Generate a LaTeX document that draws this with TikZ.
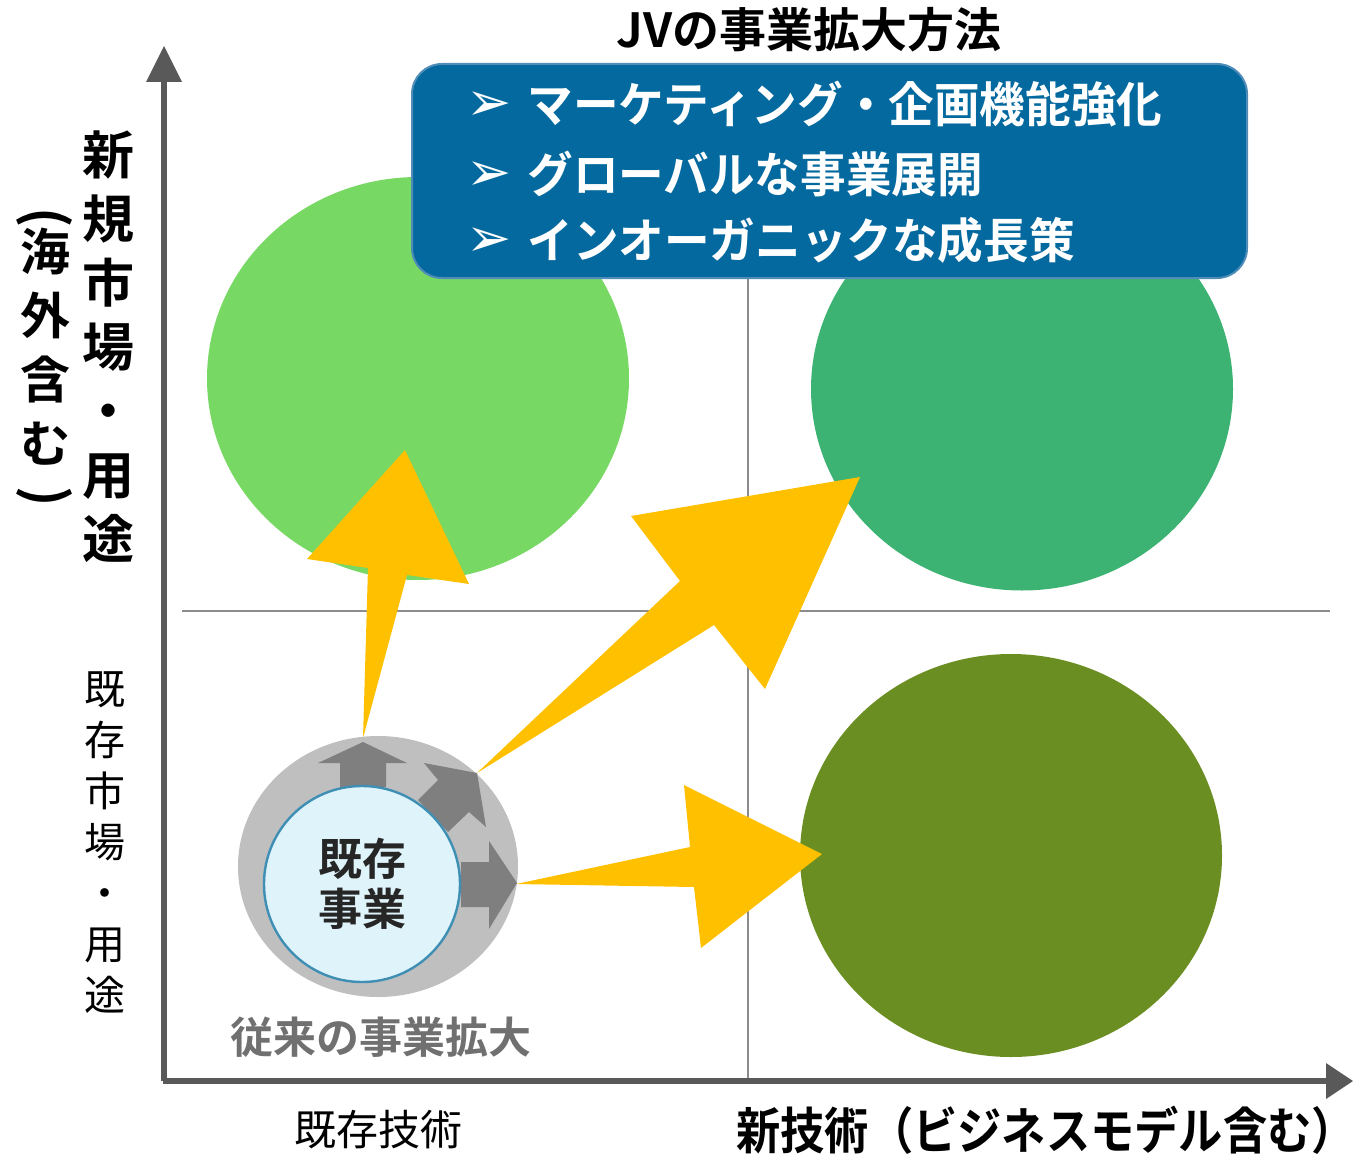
\documentclass[tikz,border=0pt]{standalone}
\usepackage{fontspec}
\usetikzlibrary{shapes.geometric}
\newfontfamily\jp{Noto Sans CJK JP}
\newfontfamily\jpb{Noto Sans CJK JP Bold}
\newfontfamily\jpbs[FakeStretch=0.95]{Noto Sans CJK JP Bold}
\newfontfamily\jpbn[FakeStretch=0.885]{Noto Sans CJK JP Bold}
\newfontfamily\dv{DejaVu Sans}
\definecolor{lgreen}{HTML}{78D864}
\definecolor{mgreen}{HTML}{3DB373}
\definecolor{olive}{HTML}{6B8E23}
\definecolor{yel}{HTML}{FFC000}
\definecolor{axisgrey}{HTML}{595959}
\definecolor{gridgrey}{HTML}{8C8C8C}
\definecolor{ringgrey}{HTML}{BFBFBF}
\definecolor{arrgrey}{HTML}{7F7F7F}
\definecolor{boxblue}{HTML}{04699E}
\definecolor{boxedge}{HTML}{4F8DB8}
\definecolor{innerfill}{HTML}{DFF3FA}
\definecolor{inneredge}{HTML}{3F8FB5}
\definecolor{labelgrey}{HTML}{707070}
\definecolor{darktext}{HTML}{262626}
\begin{document}
\begin{tikzpicture}[x=0.5pt,y=-0.5pt,
  bigcircle/.style={ellipse,minimum width=211pt,minimum height=201.5pt,inner sep=0pt,draw=none},
  yarrow/.style={fill=yel,draw=none},
  garrow/.style={fill=arrgrey,draw=none},
  gridline/.style={draw=gridgrey,line width=0.65pt},
  axisline/.style={draw=axisgrey,line width=3pt},
  axishead/.style={fill=axisgrey,draw=none},
  boxline/.style={anchor=west,text=white,inner sep=0pt,font={\jpbs\fontsize{24pt}{28pt}\selectfont}},
  bullet/.style={text=white,inner sep=0pt,font={\dv\bfseries\fontsize{27pt}{30pt}\selectfont}},
  vlabelbold/.style={align=center,inner sep=0pt,font={\jpb\fontsize{26pt}{32pt}\selectfont}},
  vlabelreg/.style={align=center,inner sep=0pt,font={\jp\fontsize{20.5pt}{25.5pt}\selectfont}}
]
\useasboundingbox (0,0) rectangle (1353,1156);

% quadrant circles
\node[bigcircle,fill=lgreen] (c1) at (418,378.5) {};
\node[bigcircle,fill=mgreen] (c2) at (1022,389) {};
\node[bigcircle,fill=olive] (c3) at (1011,855.5) {};

% grid lines
\coordinate (hl) at (182,611);
\coordinate (hr) at (1330,611);
\coordinate (vt) at (748,272);
\coordinate (vb) at (748,1080);
\draw[gridline] (hl) -- (hr);
\draw[gridline] (vt) -- (vb);

% axes
\coordinate (org) at (164,1081);
\coordinate (ytop) at (164,80);
\coordinate (xend) at (1326,1081);
\draw[axisline] (org) -- (ytop);
\draw[axisline] (163,1081) -- (xend);
\fill[axishead] (146,82) -- (164,46) -- (182,82) -- cycle;
\fill[axishead] (1326,1063) -- (1353,1081) -- (1326,1099) -- cycle;

% yellow arrows
\fill[yarrow] (363,738) -- (368,568) -- (307,559) -- (405,450) -- (469,584) -- (407,575) -- cycle;
\fill[yarrow] (477,773) -- (680,581) -- (631,516) -- (860,477) -- (765,689) -- (714,625) -- cycle;
\fill[yarrow] (516,884) -- (690,847) -- (684,785) -- (822,854) -- (701,948) -- (694,887) -- cycle;

% existing business
\node[ellipse,minimum width=140pt,minimum height=130.5pt,inner sep=0pt,fill=ringgrey] (ring) at (378,866.5) {};
\fill[garrow] (363,742) -- (407,763) -- (386,763) -- (386,787) -- (340,787) -- (340,763) -- (318,763) -- cycle;
\fill[garrow] (424,763) -- (477,773) -- (486,827) -- (469,812) -- (448,832) -- (418,800) -- (438,780) -- cycle;
\fill[garrow] (517,883) -- (489,929) -- (489,907) -- (461,907) -- (461,862) -- (489,862) -- (489,841) -- cycle;
\node[circle,minimum size=98pt,inner sep=0pt,fill=innerfill,draw=inneredge,line width=1.2pt] (inner) at (362,884) {};
\node[align=center,text=darktext,inner sep=0pt,font={\jpb\fontsize{22pt}{25pt}\selectfont}] (kizon) at (362,884) {既存\\事業};

% blue box
\draw[fill=boxblue,draw=boxedge,line width=1pt,rounded corners=15pt] (412,64) rectangle (1247,278);
\node[bullet] (b1) at (489,106) {➢};
\node[bullet] (b2) at (489,176) {➢};
\node[bullet] (b3) at (489,242) {➢};
\node[boxline] (t1) at (527,104) {マーケティング・企画機能強化};
\node[boxline] (t2) at (527,174) {グローバルな事業展開};
\node[boxline] (t3) at (527,240) {インオーガニックな成長策};

% title
\node[inner sep=0pt,font={\jpb\fontsize{23.5pt}{26pt}\selectfont}] (title) at (809,30) {JVの事業拡大方法};

% axis labels
\node[vlabelbold] (ynew) at (108,347) {新\\規\\市\\場\\・\\用\\途};
\node[vlabelbold,font={\jpb\fontsize{25pt}{32pt}\selectfont}] (yovs) at (45,347) {海\\外\\含\\む};
\node[inner sep=0pt,font={\jpb\fontsize{27pt}{30pt}\selectfont}] (pl) at (45,218) {\rotatebox{-90}{(}};
\node[inner sep=0pt,font={\jpb\fontsize{27pt}{30pt}\selectfont}] (pr) at (45,497) {\rotatebox{-90}{)}};
\node[vlabelreg] (yold) at (105,843) {既\\存\\市\\場\\・\\用\\途};
\node[inner sep=0pt,font={\jp\fontsize{21pt}{24pt}\selectfont}] (xold) at (378,1130) {既存技術};
\node[inner sep=0pt,font={\jpbn\fontsize{25pt}{28pt}\selectfont}] (xnew) at (1046,1130) {新技術（ビジネスモデル含む）};
\node[inner sep=0pt,text=labelgrey,font={\jpb\fontsize{21.5pt}{24pt}\selectfont}] (trad) at (381,1037) {従来の事業拡大};
\end{tikzpicture}
\end{document}
